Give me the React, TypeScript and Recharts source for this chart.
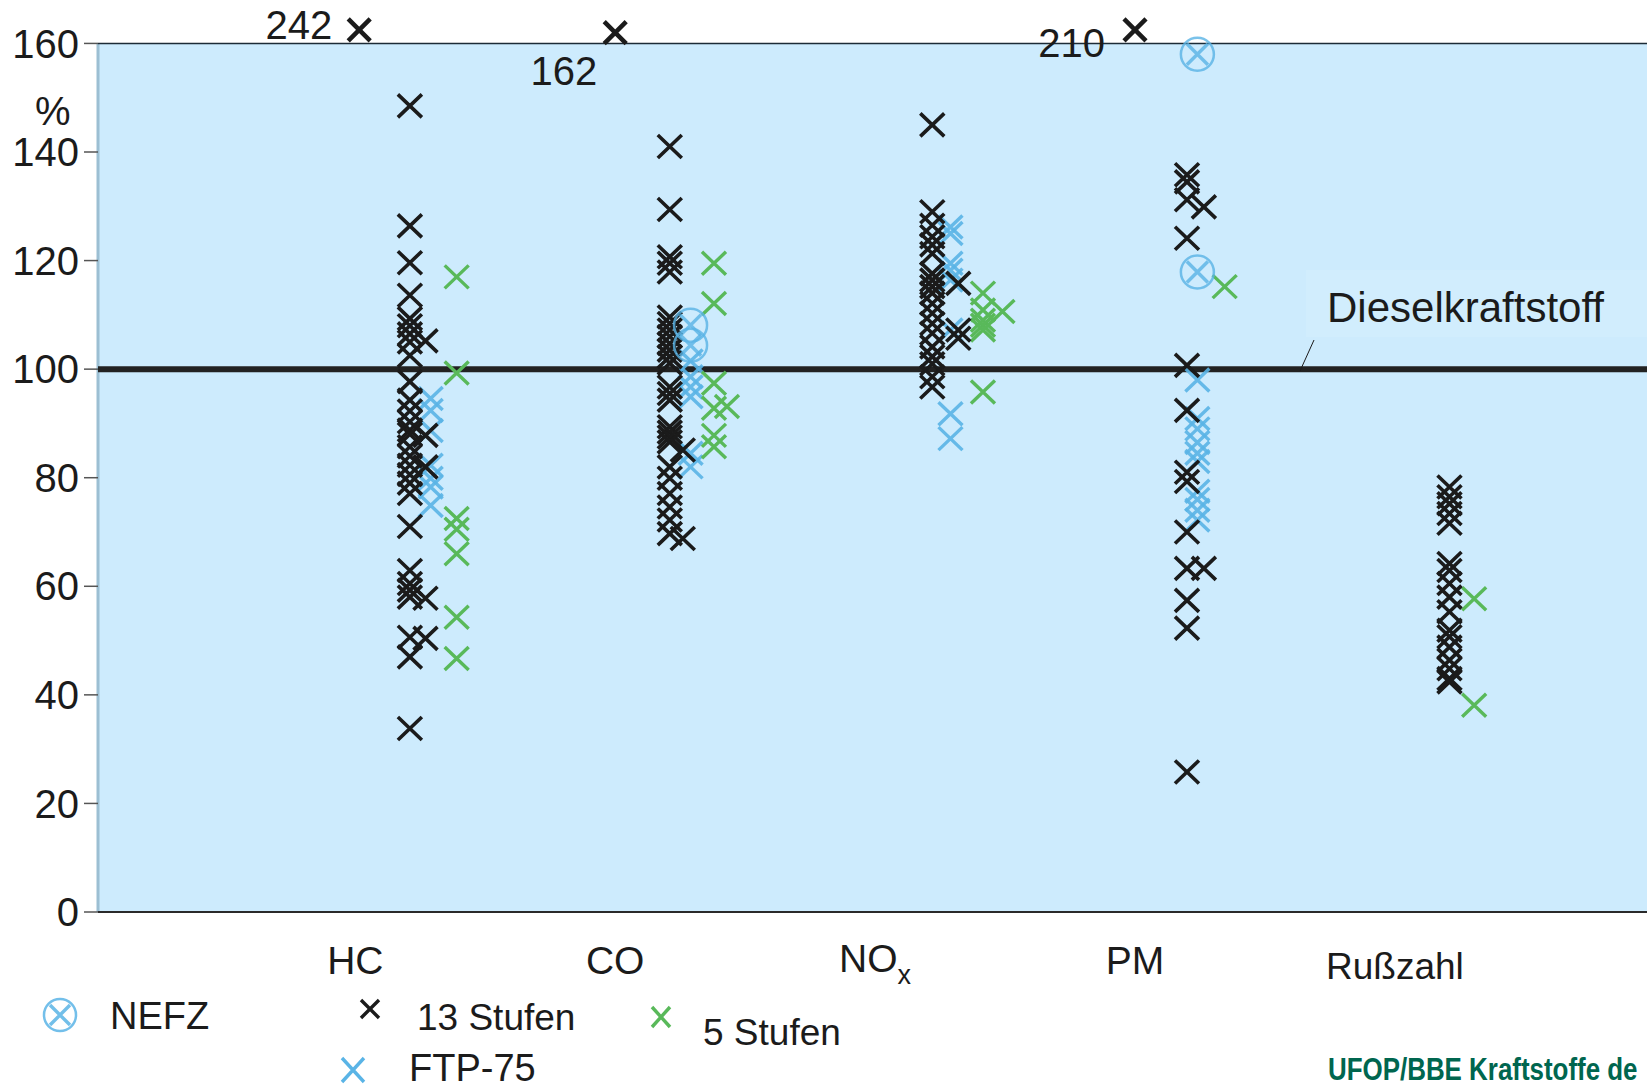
import React from "react";
import {
  ScatterChart,
  Scatter,
  XAxis,
  YAxis,
  ReferenceArea,
  ReferenceLine,
} from "recharts";

// Emissions relative to diesel fuel (= 100 %), one column group per component.
const CATEGORIES = ["HC", "CO", "NOx", "PM", "Rußzahl"];
const Y_TICKS = [0, 20, 40, 60, 80, 100, 120, 140, 160];

// 13 Stufen test, per category (HC, CO, NOx, PM, Rußzahl)
const STUFEN13 = [
  [148.5, 126.4, 119.6, 113.6, 109.3, 108, 106.5, 105, 102.5, 97.7, 94.3, 92.3, 90.3, 88.8, 88, 85.7, 84, 82.3, 80.6, 79, 77.1, 71, 62.9, 60.5, 59.3, 58, 50.6, 47, 33.8],
  [141, 129.4, 120.7, 119.5, 117.9, 109.6, 108.4, 107.2, 106, 104.7, 103.5, 102.3, 101.1, 96.7, 95.5, 94.3, 89.4, 88.4, 87.5, 86.6, 82, 79.9, 77.1, 74.6, 72.2, 69.7],
  [145, 129, 126.5, 124.4, 122.9, 121.3, 117.6, 116.4, 115.2, 114, 112.1, 110.3, 108.4, 106.6, 104.1, 102.3, 101, 98.6, 96.7],
  [135.8, 134.5, 131.2, 124.1, 100.7, 92.4, 81, 79.3, 70, 63.3, 57.4, 52.3, 25.8],
  [78.3, 76.5, 75.2, 73.4, 71.6, 64.2, 62.9, 60.5, 58, 55.3, 51.9, 50.7, 48.8, 46.4, 44.8, 43, 42.4],
];
// 13 Stufen points drawn slightly right of the main column
const STUFEN13_SIDE = [
  [105.2, 87.8, 82, 57.8, 50.4],
  [85.1, 68.8],
  [115.8, 107.2, 105.7],
  [129.9, 63.3],
  [],
];
const FTP75 = [
  [94.6, 92.4, 88.7, 82.3, 79.9, 78.3, 74.9],
  [101.5, 98.6, 96.7, 94.9, 84.5, 82],
  [126.2, 125, 119.5, 118.2, 116.4, 107.2, 91.8, 87.2],
  [98, 90.9, 89, 86.5, 84.5, 83, 77.5, 76, 74, 72.2],
  [],
];
const NEFZ = [[], [108.1, 104.4], [], [158, 117.9], []];
const STUFEN5 = [
  [117, 99.3, 72.5, 70.5, 66, 54.3, 46.7],
  [119.5, 112.1, 97.4, 92.8, 87.8, 85.7],
  [114, 110.9, 109, 108.1, 107.2, 95.8],
  [115.2],
  [57.7, 38.1],
];
const STUFEN5_SIDE = [[], [93.1], [110.6], [], []];

// 13 Stufen values beyond the scale: drawn at the top edge, value written next to it
const OUTLIER_CATEGORY = [0, 1, 3];
const OUTLIER_VALUE = [242, 162, 210];
const TOP_CAP = 162.5;

// horizontal placement of each column, in category units right of the label
const OFFSET = {
  main: [0.21, 0.21, 0.22, 0.2, 0.21],
  side: [0.27, 0.26, 0.32, 0.265, 0.27],
  ftp: [0.29, 0.29, 0.29, 0.24, 0.29],
  green: [0.39, 0.38, 0.415, 0.345, 0.305],
  greenSide: [0.45, 0.43, 0.49, 0.45, 0.45],
  outlier: [0.015, 0, 0, 0, 0],
};
// where each outlier number sits relative to its marker [dx to text end, dy to baseline]
const OUTLIER_LABEL: Record<number, [number, number]> = {
  0: [-27, 9],
  1: [-18, 52],
  3: [-30, 27],
};

const FONT = "'Liberation Sans', Arial, Helvetica, sans-serif";
const BLACK = "#1b1b1b";
const BLUE = "#5ab4e6";
const GREEN = "#59b95a";
const PLOT_BG = "#cdebfd";
const X_DOMAIN: [number, number] = [-0.99, 4.97];

const toPoints = (vals: number[][], off: number[]) =>
  vals.flatMap((list, i) => list.map((v) => ({ x: i + off[i], y: v })));

const outliers = OUTLIER_VALUE.map((v, k) => {
  const cat = OUTLIER_CATEGORY[k];
  return { x: cat + OFFSET.outlier[cat], y: Math.min(v, TOP_CAP), value: v, cat };
});

function crossPath(cx: number, cy: number, w: number, h: number) {
  return `M${cx - w},${cy - h}L${cx + w},${cy + h}M${cx - w},${cy + h}L${cx + w},${cy - h}`;
}

const cross =
  (color: string, sw: number, opacity = 1) =>
  (p: any) => (
    <path
      d={crossPath(p.cx, p.cy, 12, 11.5)}
      stroke={color}
      strokeWidth={sw}
      strokeOpacity={opacity}
      fill="none"
    />
  );

const nefzShape = (p: any) => (
  <g opacity={0.8}>
    <circle cx={p.cx} cy={p.cy} r={16.5} fill="none" stroke={BLUE} strokeWidth={2.5} />
    <path d={crossPath(p.cx, p.cy, 10.5, 10.5)} stroke={BLUE} strokeWidth={3.4} fill="none" />
  </g>
);

const outlierShape = (p: any) => {
  const [dx, dy] = OUTLIER_LABEL[p.payload.cat];
  return (
    <g>
      <path d={crossPath(p.cx, p.cy, 11, 11)} stroke={BLACK} strokeWidth={4.5} fill="none" />
      <text
        x={p.cx + dx}
        y={p.cy + dy}
        textAnchor="end"
        fontFamily={FONT}
        fontSize={40}
        fill={BLACK}
      >
        {p.payload.value}
      </text>
    </g>
  );
};

function CategoryTick(props: any) {
  const { x, y, payload } = props;
  const name = CATEGORIES[payload.value];
  if (name === "NOx") {
    return (
      <text x={x} y={y + 60} textAnchor="middle" fontFamily={FONT} fontSize={39} fill={BLACK}>
        NO
        <tspan fontSize={27} dy={12}>
          x
        </tspan>
      </text>
    );
  }
  const dy = name === "Rußzahl" ? 67 : 62;
  return (
    <text x={x} y={y + dy} textAnchor="middle" fontFamily={FONT} fontSize={name === "Rußzahl" ? 37 : 39} fill={BLACK}>
      {name}
    </text>
  );
}

function Overlay() {
  const txt = { fontFamily: FONT, fill: BLACK };
  return (
    <svg
      width={1647}
      height={1090}
      style={{ position: "absolute", left: 0, top: 0, pointerEvents: "none" }}
    >
      <text x={35} y={125} fontSize={40} {...txt}>
        %
      </text>
      <rect x={1306} y={270} width={341} height={67} fill="#d1edfd" />
      <text x={1327} y={322} fontSize={42} {...txt}>
        Dieselkraftstoff
      </text>
      <line x1={1300} y1={371} x2={1314} y2={340} stroke={BLACK} strokeWidth={1} />

      {/* legend */}
      <circle cx={60} cy={1015} r={16} fill="none" stroke={BLUE} strokeWidth={2.5} opacity={0.85} />
      <path d={crossPath(60, 1015, 10, 10)} stroke={BLUE} strokeWidth={3.4} opacity={0.85} />
      <text x={110} y={1029} fontSize={38} {...txt}>
        NEFZ
      </text>
      <path d={crossPath(370, 1009, 9, 9)} stroke={BLACK} strokeWidth={3.4} />
      <text x={417} y={1030} fontSize={37} {...txt}>
        13 Stufen
      </text>
      <path d={crossPath(661, 1017, 9, 10)} stroke={GREEN} strokeWidth={3.4} />
      <text x={703} y={1045} fontSize={37} {...txt}>
        5 Stufen
      </text>
      <path d={crossPath(353, 1070, 11, 12)} stroke={BLUE} strokeWidth={3.4} />
      <text x={409} y={1081} fontSize={38} {...txt}>
        FTP-75
      </text>
      <text
        transform="translate(1328,1080) scale(0.81,1)"
        fontSize={32}
        fontWeight="bold"
        fontFamily={FONT}
        fill="#00664f"
      >
        UFOP/BBE Kraftstoffe de
      </text>
    </svg>
  );
}

export default function App() {
  return (
    <div
      style={{
        position: "absolute",
        left: 0,
        top: 0,
        width: 1647,
        height: 1090,
        overflow: "hidden",
        background: "#fff",
      }}
    >
      <ScatterChart
        width={1647}
        height={1090}
        margin={{ top: 0, right: 0, bottom: 0, left: 0 }}
      >
        <ReferenceArea y1={0} y2={160} fill={PLOT_BG} fillOpacity={1} stroke="none" />
        <XAxis
          type="number"
          dataKey="x"
          domain={X_DOMAIN}
          ticks={[0, 1, 2, 3, 4]}
          height={178}
          tickLine={false}
          tickSize={0}
          tickMargin={0}
          axisLine={{ stroke: "#2a2a2a", strokeWidth: 2 }}
          tick={<CategoryTick />}
          interval={0}
        />
        <YAxis
          type="number"
          dataKey="y"
          domain={[0, 168]}
          ticks={Y_TICKS}
          width={98}
          tickSize={14}
          tickMargin={5}
          tickLine={{ stroke: "#555", strokeWidth: 1.5 }}
          axisLine={false}
          tick={{ fontSize: 40, fontFamily: FONT, fill: BLACK }}
          interval={0}
        />
        <ReferenceLine
          segment={[
            { x: X_DOMAIN[0], y: 0 },
            { x: X_DOMAIN[0], y: 160 },
          ]}
          stroke="#9cbfd3"
          strokeWidth={3}
        />
        <ReferenceLine y={160} stroke="#1c2b36" strokeWidth={1.5} />
        <ReferenceLine y={100} stroke="#222" strokeWidth={6} />
        <Scatter
          name="FTP-75"
          data={toPoints(FTP75, OFFSET.ftp)}
          shape={cross(BLUE, 3.4, 0.9)}
          isAnimationActive={false}
        />
        <Scatter
          name="5 Stufen"
          data={toPoints(STUFEN5, OFFSET.green)}
          shape={cross(GREEN, 3.4)}
          isAnimationActive={false}
        />
        <Scatter
          name="5 Stufen b"
          data={toPoints(STUFEN5_SIDE, OFFSET.greenSide)}
          shape={cross(GREEN, 3.4)}
          isAnimationActive={false}
        />
        <Scatter
          name="13 Stufen"
          data={toPoints(STUFEN13, OFFSET.main)}
          shape={cross(BLACK, 3.6)}
          isAnimationActive={false}
        />
        <Scatter
          name="13 Stufen b"
          data={toPoints(STUFEN13_SIDE, OFFSET.side)}
          shape={cross(BLACK, 3.6)}
          isAnimationActive={false}
        />
        <Scatter
          name="NEFZ"
          data={toPoints(NEFZ, OFFSET.ftp)}
          shape={nefzShape}
          isAnimationActive={false}
        />
        <Scatter
          name="13 Stufen (>160)"
          data={outliers}
          shape={outlierShape}
          isAnimationActive={false}
        />
      </ScatterChart>
      <Overlay />
    </div>
  );
}
